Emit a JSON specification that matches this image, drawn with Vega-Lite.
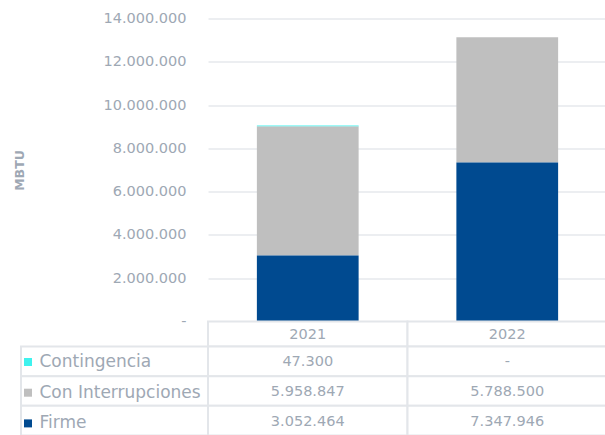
{
  "$schema": "https://vega.github.io/schema/vega-lite/v6.json",
  "padding": {"left": 13, "top": 10.5, "right": 0, "bottom": 0},
  "datasets": {
    "energy": [
      {"year": "2021", "series": "Contingencia", "value": 47300},
      {"year": "2021", "series": "Con Interrupciones", "value": 5958847},
      {"year": "2021", "series": "Firme", "value": 3052464},
      {"year": "2022", "series": "Contingencia", "value": 0},
      {"year": "2022", "series": "Con Interrupciones", "value": 5788500},
      {"year": "2022", "series": "Firme", "value": 7347946}
    ]
  },
  "columns": 2,
  "spacing": 0,
  "bounds": "flush",
  "concat": [
    {
      "width": 187, "height": 303,
      "data": {"values": []},
      "mark": "point",
      "encoding": {}
    },
    {
      "width": 399, "height": 303,
      "data": {"name": "energy"},
      "transform": [{"calculate": "indexof(['Firme', 'Con Interrupciones', 'Contingencia'], datum.series)", "as": "stackOrder"}],
      "mark": {"type": "bar"},
      "encoding": {
        "x": {"field": "year", "type": "nominal", "axis": null,
              "scale": {"paddingInner": 0.49, "paddingOuter": 0.245}},
        "y": {"field": "value", "type": "quantitative", "stack": "zero",
              "scale": {"domain": [0, 14000000], "nice": false},
              "axis": {
                "title": "MBTU",
                "values": [0, 2000000, 4000000, 6000000, 8000000, 10000000, 12000000, 14000000],
                "format": ",d",
                "labelExpr": "datum.value == 0 ? '-' : datum.label",
                "grid": true, "gridColor": "#e6e9ed", "gridWidth": 1.5,
                "domain": false, "ticks": false,
                "labelColor": "#9ea8b4", "labelFontSize": 14.5, "labelPadding": 22,
                "titleColor": "#9ea8b4", "titleFontSize": 12.5, "titleFontWeight": "bold",
                "titlePadding": 76
              }},
        "order": {"field": "stackOrder", "type": "quantitative", "sort": "ascending"},
        "color": {"field": "series", "type": "nominal",
                  "scale": {"domain": ["Contingencia", "Con Interrupciones", "Firme"],
                            "range": ["#3ff2ee", "#bfbfbf", "#004a90"]},
                  "legend": {
                    "orient": "none", "legendX": -1.5, "legendY": 335,
                    "title": null, "padding": 0,
                    "symbolType": "square", "symbolSize": 64, "symbolStrokeWidth": 0, "symbolOffset": 0,
                    "labelFontSize": 17, "labelColor": "#9ea8b4", "labelOffset": 3,
                    "rowPadding": 12.7, "labelLimit": 300
                  }}
      }
    },
    {
      "width": 187, "height": 25,
      "data": {"values": []},
      "mark": "point",
      "encoding": {}
    },
    {
      "width": 399, "height": 25,
      "data": {"name": "energy"},
      "transform": [{"filter": "datum.series === 'Firme'"}],
      "encoding": {
        "x": {"field": "year", "type": "nominal", "axis": null,
              "scale": {"paddingInner": 0, "paddingOuter": 0}}
      },
      "layer": [
        {"mark": {"type": "rect", "fill": "#ffffff", "stroke": "#e3e6ea", "strokeWidth": 2}},
        {"mark": {"type": "text", "fontSize": 14.5, "color": "#9ea8b4", "baseline": "middle", "dy": 1},
         "encoding": {"text": {"field": "year"}}}
      ]
    },
    {
      "width": 187, "height": 89,
      "data": {"name": "energy"},
      "transform": [{"filter": "datum.year === '2021'"}],
      "mark": {"type": "rect", "fill": "#ffffff", "stroke": "#e3e6ea", "strokeWidth": 2},
      "encoding": {
        "y": {"field": "series", "type": "nominal", "axis": null,
              "scale": {"domain": ["Contingencia", "Con Interrupciones", "Firme"], "paddingInner": 0, "paddingOuter": 0}}
      }
    },
    {
      "width": 399, "height": 89,
      "data": {"name": "energy"},
      "encoding": {
        "x": {"field": "year", "type": "nominal", "axis": null,
              "scale": {"paddingInner": 0, "paddingOuter": 0}},
        "y": {"field": "series", "type": "nominal", "axis": null,
              "scale": {"domain": ["Contingencia", "Con Interrupciones", "Firme"], "paddingInner": 0, "paddingOuter": 0}}
      },
      "layer": [
        {"mark": {"type": "rect", "fill": "#ffffff", "stroke": "#e3e6ea", "strokeWidth": 2}},
        {"mark": {"type": "text", "fontSize": 14.5, "color": "#9ea8b4", "baseline": "middle", "dy": 1},
         "encoding": {"text": {"condition": {"test": "datum.value === 0", "value": "-"},
                               "field": "value", "type": "quantitative", "format": ",d"}}}
      ]
    }
  ],
  "config": {
    "font": "DejaVu Sans",
    "view": {"stroke": null},
    "locale": {"number": {"decimal": ",", "thousands": ".", "grouping": [3], "currency": ["", " €"]}}
  }
}
